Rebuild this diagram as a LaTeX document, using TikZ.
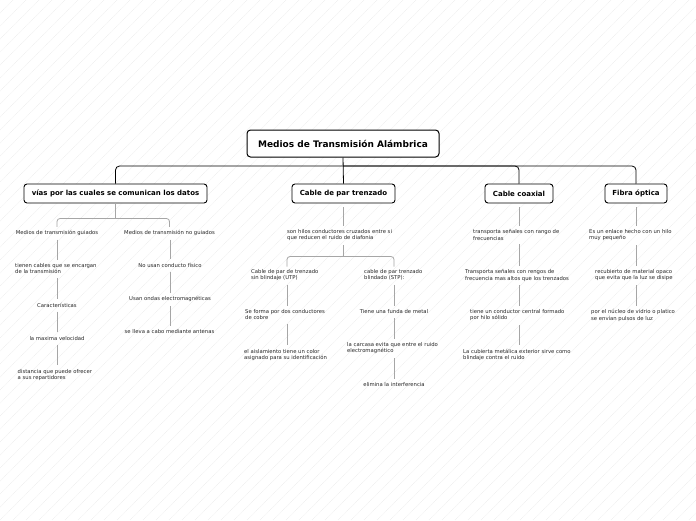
\documentclass[tikz,border=0pt]{standalone}
\usepackage{fontspec}
\setmainfont{DejaVu Sans}
\usetikzlibrary{calc}
\begin{document}
\begin{tikzpicture}[x=1pt,y=-1pt,
  mainbox/.style={draw=black,line width=1pt,rounded corners=3.5pt,fill=white,
    font=\fontsize{9}{10}\selectfont\bfseries,inner sep=0pt,minimum height=27pt},
  topicbox/.style={draw=black,line width=0.9pt,rounded corners=3pt,fill=white,
    font=\fontsize{7}{8}\selectfont\bfseries,inner sep=0pt,minimum height=19pt},
  leaf/.style={font=\fontsize{5.3}{6.2}\selectfont,text=black!85,inner sep=0pt,align=left},
  bus/.style={draw=black,line width=0.8pt,rounded corners=4pt},
  conn/.style={draw=black!35,line width=0.8pt,shorten <=4pt,shorten >=4pt},
  bracket/.style={draw=black!35,line width=0.8pt,rounded corners=3pt},
  hatch/.style={draw=black!8,line width=0.35pt,dash pattern=on 1pt off 0.6pt}
]
\useasboundingbox (0,0) rectangle (696,520);
\fill[white] (0,0) rectangle (696,520);
\begin{scope}
\clip (0,0) rectangle (696,520);
\foreach \i in {-520,-507,...,700} {
  \draw[hatch] (\i,520) -- (\i+520,0);
}
\end{scope}

% column coordinates
\coordinate (busY) at (0,166);
\coordinate (cG) at (57,0);
\coordinate (cN) at (170,0);
\coordinate (cL) at (287,0);
\coordinate (cR) at (394,0);
\coordinate (cC) at (519,0);
\coordinate (cF) at (636,0);

% main and topic nodes
\node[mainbox,minimum width=192pt] (main) at (343,143.5) {Medios de Transmisión Alámbrica};
\node[topicbox,minimum width=183pt] (vias) at (115.5,193.5) {vías por las cuales se comunican los datos};
\node[topicbox,minimum width=103pt] (par) at (343.5,193.5) {Cable de par trenzado};
\node[topicbox,minimum width=68pt] (coax) at (519,193.5) {Cable coaxial};
\node[topicbox,minimum width=62pt] (fibra) at (636,193.5) {Fibra óptica};

% bus
\draw[bus] (vias.north) |- (fibra.north |- busY) -- (fibra.north);
\draw[bus] (main.south) -- (par.north);
\draw[bus] (main.south |- busY) -| (coax.north);

% vias branch
\coordinate (brV) at (115.5,218.5);
\node[leaf,anchor=north] (g1) at (57,229.8) {Medios de transmisión guiados};
\node[leaf,anchor=north] (n1) at (169.5,229.8) {Medios de transmisión no guiados};
\draw[draw=black!35,line width=0.8pt] (vias.south) -- (brV);
\draw[bracket] ($(g1.north)+(0,-3)$) |- (brV) -| ($(n1.north)+(0,-3)$);

\node[leaf,anchor=north west] (g2) at (15,263.5) {tienen cables que se encargan\\de la transmisión};
\node[leaf,anchor=north] (g3) at (57,303) {Características};
\node[leaf,anchor=north] (g4) at (57,336) {la maxima velocidad};
\node[leaf,anchor=north west] (g5) at (17.5,369) {distancia que puede ofrecer\\a sus repartidores};
\draw[conn] (g1.south -| cG) -- (g2.north -| cG);
\draw[conn] (g2.south -| cG) -- (g3.north -| cG);
\draw[conn] (g3.south -| cG) -- (g4.north -| cG);
\draw[conn] (g4.south -| cG) -- (g5.north -| cG);

\node[leaf,anchor=north] (n2) at (170,263) {No usan conducto físico};
\node[leaf,anchor=north] (n3) at (170,296.5) {Usan ondas electromagnéticas};
\node[leaf,anchor=north] (n4) at (169.5,329.5) {se lleva a cabo mediante antenas};
\draw[conn] (n1.south -| cN) -- (n2.north -| cN);
\draw[conn] (n2.south -| cN) -- (n3.north -| cN);
\draw[conn] (n3.south -| cN) -- (n4.north -| cN);

% par trenzado branch
\node[leaf,anchor=north west] (p1) at (287,229.5) {son hilos conductores cruzados entre si\\que reducen el ruido de diafonia};
\draw[conn] (par.south) -- (p1.north -| par.south);
\coordinate (brP) at (343.5,256.5);
\draw[draw=black!35,line width=0.8pt,shorten <=4pt] (p1.south -| par.south) -- (brP);
\node[leaf,anchor=north west] (p2) at (251,269.5) {Cable de par de trenzado\\sin blindaje (UTP)};
\node[leaf,anchor=north west] (p3) at (364,269.5) {cable de par trenzado\\blindado (STP):};
\draw[bracket] ($(p2.north -| cL)+(0,-3)$) |- (brP) -| ($(p3.north -| cR)+(0,-3)$);

\node[leaf,anchor=north west] (p4) at (245,309.5) {Se forma por dos conductores\\de cobre};
\node[leaf,anchor=north west] (p5) at (244,349) {el aislamiento tiene un color\\asignado para su identificación};
\draw[conn] (p2.south -| cL) -- (p4.north -| cL);
\draw[conn] (p4.south -| cL) -- (p5.north -| cL);

\node[leaf,anchor=north] (p6) at (394,309.5) {Tiene una funda de metal};
\node[leaf,anchor=north west] (p7) at (347,342.5) {la carcasa evita que entre el ruido\\electromagnético};
\node[leaf,anchor=north] (p8) at (394,382.5) {elimina la interferencia};
\draw[conn] (p3.south -| cR) -- (p6.north -| cR);
\draw[conn] (p6.south -| cR) -- (p7.north -| cR);
\draw[conn] (p7.south -| cR) -- (p8.north -| cR);

% coaxial branch
\node[leaf,anchor=north west] (c1) at (473,229.5) {transporta señales con rango de\\frecuencias};
\node[leaf,anchor=north west] (c2) at (465,269.5) {Transporta señales con rengos de\\frecuencia mas altos que los trenzados};
\node[leaf,anchor=north west] (c3) at (470,309.5) {tiene un conductor central formado\\por hilo sólido};
\node[leaf,anchor=north west] (c4) at (463,349) {La cubierta metálica exterior sirve como\\blindaje contra el ruido};
\draw[conn] (coax.south) -- (c1.north -| cC);
\draw[conn] (c1.south -| cC) -- (c2.north -| cC);
\draw[conn] (c2.south -| cC) -- (c3.north -| cC);
\draw[conn] (c3.south -| cC) -- (c4.north -| cC);

% fibra branch
\node[leaf,anchor=north west] (f1) at (589,229.5) {Es un enlace hecho con un hilo\\muy pequeño};
\node[leaf,anchor=north west] (f2) at (595,269.5) {recubierto de material opaco\\que evita que la luz se disipe};
\node[leaf,anchor=north west] (f3) at (591,309.5) {por el núcleo de vidrio o platico\\se envían pulsos de luz};
\draw[conn] (fibra.south) -- (f1.north -| cF);
\draw[conn] (f1.south -| cF) -- (f2.north -| cF);
\draw[conn] (f2.south -| cF) -- (f3.north -| cF);
\end{tikzpicture}
\end{document}
